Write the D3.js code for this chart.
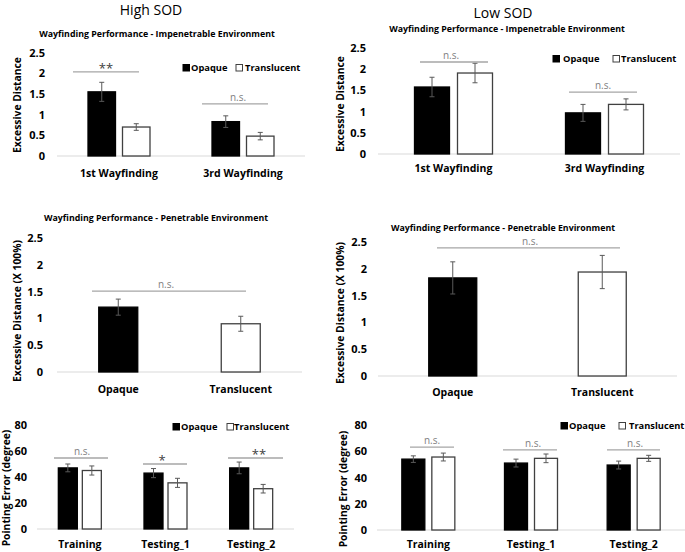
<!DOCTYPE html>
<html><head><meta charset="utf-8">
<script src="https://cdn.jsdelivr.net/npm/d3@7"></script>
<style>
body{margin:0;background:#fff}
svg{display:block}
text{font-family:'Open Sans',sans-serif}
</style>
</head><body>
<svg id="chart" width="685" height="552"></svg>
<script>
// ---------- data ----------
const wayfindingCategories = ["1st Wayfinding", "3rd Wayfinding"];
const conditionCategories = ["Opaque", "Translucent"];
const pointingCategories = ["Training", "Testing_1", "Testing_2"];
const seriesNames = ["Opaque", "Translucent"];
const distanceTicks = [0, 0.5, 1, 1.5, 2, 2.5];
const pointingTicks = [0, 20, 40, 60, 80];

// High SOD, impenetrable
const highImpOpaque = [1.55, 0.83];
const highImpOpaqueErr = [0.23, 0.14];
const highImpTranslucent = [0.70, 0.48];
const highImpTranslucentErr = [0.08, 0.09];
const highImpSig = ["**", "n.s."];
// Low SOD, impenetrable
const lowImpOpaque = [1.58, 0.97];
const lowImpOpaqueErr = [0.23, 0.20];
const lowImpTranslucent = [1.91, 1.17];
const lowImpTranslucentErr = [0.23, 0.13];
const lowImpSig = ["n.s.", "n.s."];
// Penetrable
const highPen = [1.21, 0.90];
const highPenErr = [0.15, 0.14];
const lowPen = [1.83, 1.94];
const lowPenErr = [0.30, 0.31];
const penSig = ["n.s."];
// Pointing error
const highPointOpaque = [47, 43, 47];
const highPointOpaqueErr = [3, 3.5, 4.5];
const highPointTranslucent = [45, 35.5, 31];
const highPointTranslucentErr = [3.5, 3.5, 3.3];
const highPointSig = ["n.s.", "*", "**"];
const lowPointOpaque = [54, 51, 49.5];
const lowPointOpaqueErr = [2.5, 3, 3];
const lowPointTranslucent = [55.6, 54.6, 54.6];
const lowPointTranslucentErr = [3, 3.3, 2.3];
const lowPointSig = ["n.s.", "n.s.", "n.s."];

// ---------- drawing ----------
const svg = d3.select("#chart");
svg.append("rect").attr("width", 685).attr("height", 552).attr("fill", "#fff");

const fills = ["#000000", "#ffffff"];
const strokes = ["#000000", "#404040"];

function drawPanel(p) {
  const g = svg.append("g");
  const x = d3.scaleBand().domain(p.categories).range(p.xRange);
  const y = d3.scaleLinear().domain([0, p.max]).range(p.yRange);

  // baseline
  g.append("line").attr("x1", p.xRange[0]).attr("x2", p.xRange[1])
    .attr("y1", y(0)).attr("y2", y(0)).attr("stroke", "#d9d9d9").attr("stroke-width", 1);

  // y axis
  const ax = g.append("g").attr("transform", `translate(${p.tickX},0)`)
    .call(d3.axisLeft(y).tickValues(p.ticks).tickSize(0).tickPadding(0).tickFormat(d => d));
  ax.select(".domain").remove();
  ax.attr("font-family", null).attr("font-size", null);
  ax.selectAll("text").attr("font-size", "11px").attr("font-weight", "bold").attr("fill", "#000");

  // y title
  g.append("text").attr("transform", `translate(${p.yTitlePos[0]},${p.yTitlePos[1]}) rotate(-90)`)
    .attr("text-anchor", "middle").attr("dominant-baseline", "middle")
    .attr("font-size", "10.3px").attr("font-weight", "bold").text(p.yTitle);

  // category labels
  g.selectAll(".cat").data(p.categories).join("text")
    .attr("x", d => x(d) + x.bandwidth() / 2).attr("y", p.catY)
    .attr("text-anchor", "middle").attr("font-size", "10.5px").attr("font-weight", "bold").text(d => d);

  // bars
  const bars = [];
  p.series.forEach((s, si) => {
    s.values.forEach((v, ci) => {
      const c = x(p.categories[ci]) + x.bandwidth() / 2;
      let bx;
      if (p.single) bx = c - p.barW / 2;
      else bx = si === 0 ? c - p.gap / 2 - p.barW : c + p.gap / 2;
      const style = p.single ? ci : si;
      bars.push({ x: bx, v, e: s.err[ci], style });
    });
  });
  g.selectAll(".bar").data(bars).join("rect")
    .attr("x", d => d.x).attr("width", p.barW)
    .attr("y", d => y(d.v)).attr("height", d => y(0) - y(d.v))
    .attr("fill", d => fills[d.style]).attr("stroke", d => strokes[d.style]).attr("stroke-width", 1.3);
  const eb = g.selectAll(".eb").data(bars).join("g").attr("stroke", "#595959").attr("stroke-width", 1);
  eb.append("line").attr("x1", d => d.x + p.barW / 2).attr("x2", d => d.x + p.barW / 2)
    .attr("y1", d => y(d.v + d.e)).attr("y2", d => y(d.v - d.e));
  eb.append("line").attr("x1", d => d.x + p.barW / 2 - 2.5).attr("x2", d => d.x + p.barW / 2 + 2.5)
    .attr("y1", d => y(d.v + d.e)).attr("y2", d => y(d.v + d.e));
  eb.append("line").attr("x1", d => d.x + p.barW / 2 - 2.5).attr("x2", d => d.x + p.barW / 2 + 2.5)
    .attr("y1", d => y(d.v - d.e)).attr("y2", d => y(d.v - d.e));

  // significance annotations
  p.sig.forEach((s, i) => {
    const ly = y(s.level);
    g.append("line").attr("x1", s.x1).attr("x2", s.x2).attr("y1", ly).attr("y2", ly)
      .attr("stroke", "#a6a6a6").attr("stroke-width", 1.3);
    const star = s.label !== "n.s.";
    g.append("text").attr("x", s.tx).attr("y", ly - (star ? -1 : 3))
      .attr("text-anchor", "middle")
      .attr("font-size", star ? "13px" : "10px")
      .attr("fill", star ? "#404040" : "#7f7f7f")
      .text(s.label);
  });

  // legend
  if (p.legend) {
    const L = p.legend;
    seriesNames.forEach((n, i) => {
      g.append("rect").attr("x", L.sq[i]).attr("y", L.y - 3.5).attr("width", 6.5).attr("height", 6.5)
        .attr("fill", fills[i]).attr("stroke", strokes[i]).attr("stroke-width", 1);
      g.append("text").attr("x", L.tx[i]).attr("y", L.y + 3.3)
        .attr("font-size", "9.3px").attr("font-weight", "bold").text(n);
    });
  }

  // title
  if (p.title) {
    g.append("text").attr("x", p.title.x).attr("y", p.title.y).attr("text-anchor", "middle")
      .attr("font-size", "8.8px").attr("font-weight", "bold").text(p.title.text);
  }
}

const impTitle = "Wayfinding Performance - Impenetrable Environment";
const penTitle = "Wayfinding Performance - Penetrable Environment";

// Panel 1: High SOD impenetrable
drawPanel({
  categories: wayfindingCategories, xRange: [57, 305], max: 2.5, yRange: [156, 52.5],
  ticks: distanceTicks, tickX: 45, yTitle: "Excessive Distance", yTitlePos: [18, 105], catY: 177,
  barW: 27.5, gap: 7,
  series: [{ values: highImpOpaque, err: highImpOpaqueErr }, { values: highImpTranslucent, err: highImpTranslucentErr }],
  sig: [
    { label: highImpSig[0], level: 2.03, x1: 73, x2: 139, tx: 106 },
    { label: highImpSig[1], level: 1.26, x1: 202, x2: 268, tx: 238 }
  ],
  legend: { y: 68, sq: [183, 236], tx: [191, 245] },
  title: { text: impTitle, x: 157, y: 37 }
});

// Panel 2: Low SOD impenetrable
drawPanel({
  categories: wayfindingCategories, xRange: [378, 680], max: 2.5, yRange: [154, 48],
  ticks: distanceTicks, tickX: 366, yTitle: "Excessive Distance", yTitlePos: [341, 104], catY: 172,
  barW: 35, gap: 8,
  series: [{ values: lowImpOpaque, err: lowImpOpaqueErr }, { values: lowImpTranslucent, err: lowImpTranslucentErr }],
  sig: [
    { label: lowImpSig[0], level: 2.17, x1: 420, x2: 488, tx: 451 },
    { label: lowImpSig[1], level: 1.46, x1: 569, x2: 637, tx: 603 }
  ],
  legend: { y: 59, sq: [553, 613], tx: [563, 621] },
  title: { text: impTitle, x: 507, y: 32 }
});

// Panel 3: High SOD penetrable
drawPanel({
  categories: conditionCategories, xRange: [57, 302], max: 2.5, yRange: [372, 238],
  ticks: distanceTicks, tickX: 43, yTitle: "Excessive Distance (X 100%)", yTitlePos: [18, 311], catY: 393,
  barW: 39, single: true,
  series: [{ values: highPen, err: highPenErr }],
  sig: [{ label: penSig[0], level: 1.51, x1: 92, x2: 246, tx: 166 }],
  title: { text: penTitle, x: 156, y: 221 }
});

// Panel 4: Low SOD penetrable
drawPanel({
  categories: conditionCategories, xRange: [378, 677], max: 2.5, yRange: [376, 242],
  ticks: distanceTicks, tickX: 367, yTitle: "Excessive Distance (X 100%)", yTitlePos: [341, 313], catY: 396,
  barW: 48, single: true,
  series: [{ values: lowPen, err: lowPenErr }],
  sig: [{ label: penSig[0], level: 2.39, x1: 437, x2: 620, tx: 530 }],
  title: { text: penTitle, x: 503, y: 231 }
});

// Panel 5: High SOD pointing
drawPanel({
  categories: pointingCategories, xRange: [37, 294], max: 80, yRange: [529, 425],
  ticks: pointingTicks, tickX: 27, yTitle: "Pointing Error (degree)", yTitlePos: [7, 488], catY: 548,
  barW: 19, gap: 5,
  series: [{ values: highPointOpaque, err: highPointOpaqueErr }, { values: highPointTranslucent, err: highPointTranslucentErr }],
  sig: [
    { label: highPointSig[0], level: 54.6, x1: 54, x2: 108, tx: 82 },
    { label: highPointSig[1], level: 50, x1: 143, x2: 187, tx: 162 },
    { label: highPointSig[2], level: 54.6, x1: 228, x2: 283, tx: 259 }
  ],
  legend: { y: 427, sq: [173, 227], tx: [181, 234] }
});

// Panel 6: Low SOD pointing
drawPanel({
  categories: pointingCategories, xRange: [377, 685], max: 80, yRange: [530, 425],
  ticks: pointingTicks, tickX: 367, yTitle: "Pointing Error (degree)", yTitlePos: [344, 489], catY: 548,
  barW: 23, gap: 7,
  series: [{ values: lowPointOpaque, err: lowPointOpaqueErr }, { values: lowPointTranslucent, err: lowPointTranslucentErr }],
  sig: [
    { label: lowPointSig[0], level: 63.2, x1: 410, x2: 454, tx: 432 },
    { label: lowPointSig[1], level: 61, x1: 503, x2: 557, tx: 533 },
    { label: lowPointSig[2], level: 61, x1: 607, x2: 660, tx: 635 }
  ],
  legend: { y: 426, sq: [561, 619], tx: [569, 629] }
});

// headers
svg.append("text").attr("x", 151).attr("y", 15).attr("text-anchor", "middle")
  .attr("font-size", "14px").text("High SOD");
svg.append("text").attr("x", 503).attr("y", 18).attr("text-anchor", "middle")
  .attr("font-size", "14px").text("Low SOD");
</script>
</body></html>
